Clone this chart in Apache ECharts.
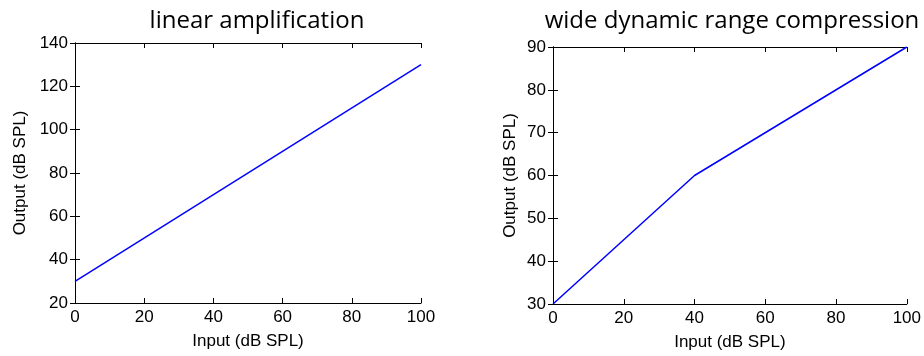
<!DOCTYPE html>
<html><head><meta charset="utf-8">
<script src="https://cdn.jsdelivr.net/npm/echarts@6/dist/echarts.min.js"></script>
<style>html,body{margin:0;padding:0;background:#fff}#c{width:924px;height:356px}</style>
</head><body><div id="c"></div>
<script>
const titles = ['linear amplification', 'wide dynamic range compression'];
const linearIn = [0, 100];
const linearOut = [30, 130];
const wdrcIn = [0, 40, 100];
const wdrcOut = [30, 60, 90];
const xTicks = [0, 100, 20];
const yLeft = [20, 140, 20];
const yRight = [30, 90, 10];
const xName = 'Input (dB SPL)';
const yName = 'Output (dB SPL)';

const font = 'Liberation Sans';
const grids = [
  {left: 75, top: 43, width: 346, height: 260},
  {left: 553, top: 47, width: 354, height: 258}
];
const axLine = {show: true, lineStyle: {color: '#000', width: 1}};
function xa(g, top, range) {
  return {
    type: 'value', gridIndex: g, min: range[0], max: range[1], interval: range[2],
    position: top ? 'top' : 'bottom',
    axisLine: axLine, splitLine: {show: false},
    axisTick: {show: true, inside: true, length: 5, lineStyle: {color: '#000'}},
    axisLabel: {show: !top, color: '#000', fontFamily: font, fontSize: 17, margin: 6},
    name: top ? '' : xName, nameLocation: 'middle', nameGap: 30,
    nameTextStyle: {color: '#000', fontFamily: font, fontSize: 17}
  };
}
function ya(g, right, range, gap) {
  return {
    type: 'value', gridIndex: g, min: range[0], max: range[1], interval: range[2],
    position: right ? 'right' : 'left',
    axisLine: axLine, splitLine: {show: false},
    axisTick: {show: true, inside: true, length: 5, lineStyle: {color: '#000'}},
    axisLabel: {show: !right, color: '#000', fontFamily: font, fontSize: 17, margin: 7},
    name: right ? '' : yName, nameLocation: 'middle', nameGap: gap,
    nameTextStyle: {color: '#000', fontFamily: font, fontSize: 17}
  };
}
const chart = echarts.init(document.getElementById('c'), null, {renderer: 'canvas'});
chart.setOption({
  animation: false,
  backgroundColor: '#fff',
  title: [
    {text: titles[0], left: 252, top: 4, textAlign: 'center',
     textStyle: {fontFamily: 'Open Sans', fontWeight: 'normal', fontSize: 24, color: '#000'}},
    {text: titles[1], left: 727, top: 4, textAlign: 'center',
     textStyle: {fontFamily: 'Open Sans', fontWeight: 'normal', fontSize: 24, color: '#000'}}
  ],
  grid: grids,
  xAxis: [xa(0, false, xTicks), xa(0, true, xTicks), xa(1, false, xTicks), xa(1, true, xTicks)],
  yAxis: [ya(0, false, yLeft, 46), ya(0, true, yLeft, 0), ya(1, false, yRight, 34), ya(1, true, yRight, 0)],
  series: [
    {type: 'line', xAxisIndex: 0, yAxisIndex: 0, data: linearIn.map((x, i) => [x, linearOut[i]]),
     showSymbol: false, lineStyle: {color: '#0000ff', width: 1.5}},
    {type: 'line', xAxisIndex: 2, yAxisIndex: 2, data: wdrcIn.map((x, i) => [x, wdrcOut[i]]),
     showSymbol: false, lineStyle: {color: '#0000ff', width: 1.5}}
  ]
});
</script></body></html>
